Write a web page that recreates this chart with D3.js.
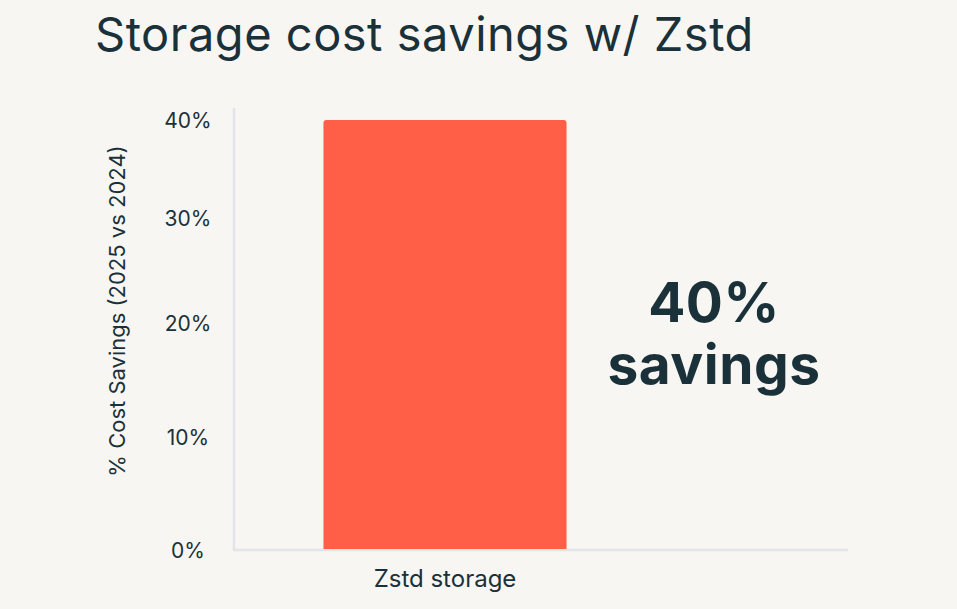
<!DOCTYPE html>
<html><head><meta charset="utf-8">
<script src="https://cdn.jsdelivr.net/npm/d3@7"></script>
<style>
html,body{margin:0;padding:0;background:#f7f6f3;}
svg{display:block;}
text{font-family:Inter,"DejaVu Sans",sans-serif;fill:#1b3139;}
</style></head>
<body>
<svg id="chart" width="957" height="609"></svg>
<script>
const categories = ["Zstd storage"];
const savings = [0.40];
const yTickValues = [0, 0.10, 0.20, 0.30, 0.40];
const yTickLabels = ["0%", "10%", "20%", "30%", "40%"];
const titleText = "Storage cost savings w/ Zstd";
const yAxisTitle = "% Cost Savings (2025 vs 2024)";
const annotationLines = ["40%", "savings"];

const svg = d3.select("#chart");
const W = 957, H = 609;
const plot = {left: 234, right: 848, top: 108, bottom: 550};

svg.append("rect").attr("width", W).attr("height", H).attr("fill", "#f7f6f3");

// y scale (tick positions as rendered in the reference, piecewise)
const y = d3.scaleLinear()
  .domain(yTickValues)
  .range([550, 437, 323, 218, 120]);

const x = d3.scaleBand()
  .domain(categories)
  .range([plot.left, 656])
  .paddingInner(0)
  .paddingOuter(0.368);

// title
svg.append("text")
  .attr("x", 95).attr("y", 51)
  .attr("font-size", 47).attr("font-weight", 400)
  .attr("letter-spacing", 0.5)
  .text(titleText);

// axis lines
svg.append("line").attr("x1", plot.left).attr("x2", plot.left)
  .attr("y1", plot.top).attr("y2", plot.bottom)
  .attr("stroke", "#e2e4e7").attr("stroke-width", 2.5);
svg.append("line").attr("x1", plot.left - 1).attr("x2", plot.right)
  .attr("y1", plot.bottom).attr("y2", plot.bottom)
  .attr("stroke", "#e2e4e7").attr("stroke-width", 2.5);

// y ticks
svg.append("g").selectAll("text").data(yTickValues).join("text")
  .attr("x", 188).attr("y", d => y(d))
  .attr("dy", "0.36em")
  .attr("text-anchor", "middle")
  .attr("font-size", 21)
  .text((d, i) => yTickLabels[i]);

// y axis title
svg.append("text")
  .attr("transform", `translate(125,311) rotate(-90)`)
  .attr("text-anchor", "middle")
  .attr("font-size", 22)
  .text(yAxisTitle);

// bars
const r = 3;
svg.append("g").selectAll("path").data(savings).join("path")
  .attr("fill", "#ff5f46")
  .attr("d", (d, i) => {
    const x0 = x(categories[i]), w = x.bandwidth();
    const y0 = y(d), y1 = y(0) - 1;
    return `M${x0},${y1}V${y0 + r}Q${x0},${y0} ${x0 + r},${y0}H${x0 + w - r}Q${x0 + w},${y0} ${x0 + w},${y0 + r}V${y1}Z`;
  });

// x labels
svg.append("g").selectAll("text").data(categories).join("text")
  .attr("x", d => x(d) + x.bandwidth() / 2).attr("y", 587)
  .attr("text-anchor", "middle")
  .attr("font-size", 24)
  .text(d => d);

// annotation
svg.append("g").selectAll("text").data(annotationLines).join("text")
  .attr("x", 714).attr("y", (d, i) => 322 + i * 62)
  .attr("text-anchor", "middle")
  .attr("font-size", 55).attr("font-weight", 700)
  .attr("letter-spacing", 0.5)
  .text(d => d);
</script>
</body></html>
